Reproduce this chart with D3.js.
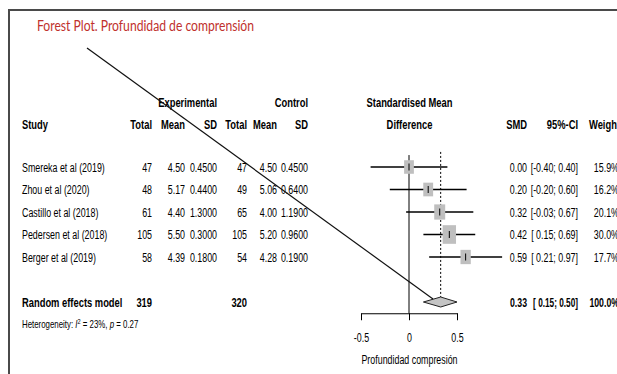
<!DOCTYPE html>
<html>
<head>
<meta charset="utf-8">
<script src="https://cdn.jsdelivr.net/npm/d3@7"></script>
<style>
  html, body { margin: 0; padding: 0; background: #fff; }
  svg { display: block; }
</style>
</head>
<body>
<script>
// ---------------- DATA ----------------
const studies   = ["Smereka et al (2019)", "Zhou et al (2020)", "Castillo et al (2018)", "Pedersen et al (2018)", "Berger et al (2019)"];
const expTotal  = [47, 48, 61, 105, 58];
const expMean   = [4.50, 5.17, 4.40, 5.50, 4.39];
const expSD     = [0.4500, 0.4400, 1.3000, 0.3000, 0.1800];
const ctrlTotal = [47, 49, 65, 105, 54];
const ctrlMean  = [4.50, 5.06, 4.00, 5.20, 4.28];
const ctrlSD    = [0.4500, 0.6400, 1.1900, 0.9600, 0.1900];
const smd       = [0.00, 0.20, 0.32, 0.42, 0.59];
const ciLow     = [-0.40, -0.20, -0.03, 0.15, 0.21];
const ciHigh    = [0.40, 0.60, 0.67, 0.69, 0.97];
const weights   = [15.9, 16.2, 20.1, 30.0, 17.7];
const pooledLabel = "Random effects model";
const pooledExpTotal = 319, pooledCtrlTotal = 320;
const pooledSMD = 0.33, pooledLow = 0.15, pooledHigh = 0.50, pooledWeight = 100.0;
const hetI2 = 23, hetP = 0.27;
const axisTicks = [-0.5, 0, 0.5];
const axisTickLabels = ["-0.5", "0", "0.5"];
const titleText = "Forest Plot. Profundidad de comprensión";
const xLabel = "Profundidad compresión";

// ---------------- LAYOUT ----------------
const W = 617, H = 374;
const SX = 0.71, SXB = 0.75;      // horizontal squeeze of the text (narrow look)
const FS = 12.5;
const FONT = "'Liberation Sans', Arial, sans-serif";
const col = { study: 22, eTot: 152, eMean: 185, eSD: 217, cTot: 247, cMean: 277, cSD: 308, smd: 527, ci: 578, w: 619, wh: 620 };

const svg = d3.select("body").append("svg").attr("width", W).attr("height", H);

const x = d3.scaleLinear().domain([-0.5, 0.5]).range([361, 457]);
const y = d3.scaleLinear().domain([0, 1]).range([167, 189.5]);   // row index -> pixel

function txt(px, py, s, opt = {}) {
  const t = svg.append("text")
    .attr("transform", `translate(${px},${py}) scale(${opt.sx ?? (opt.bold ? SXB : SX)},1)`)
    .attr("text-anchor", opt.anchor || "start")
    .attr("font-family", opt.family || FONT)
    .attr("font-size", opt.size || FS)
    .attr("font-weight", opt.bold ? "bold" : "normal")
    .attr("fill", opt.fill || "#000");
  if (s !== null) t.text(s);
  return t;
}
const base = 4.5; // baseline offset from row center

// frame
svg.append("line").attr("x1", 9).attr("y1", 10).attr("x2", W).attr("y2", 10).attr("stroke", "#4a4a4a").attr("stroke-width", 2);
svg.append("line").attr("x1", 9).attr("y1", 9).attr("x2", 9).attr("y2", H).attr("stroke", "#4a4a4a").attr("stroke-width", 2);

// title
txt(37, 31, titleText, { family: "Lato, 'Open Sans', sans-serif", size: 14.5, fill: "#c0302c", sx: 1 })
  .attr("textLength", 217).attr("lengthAdjust", "spacingAndGlyphs");

// headers
const h1 = y(-2.85) + base, h2 = y(-1.87) + base;
txt(col.eSD, h1, "Experimental", { anchor: "end", bold: true });
txt(col.cSD, h1, "Control", { anchor: "end", bold: true });
txt(x(0) + 0.5, h1, "Standardised Mean", { anchor: "middle", bold: true });
txt(col.study, h2, "Study", { bold: true });
txt(col.eTot, h2, "Total", { anchor: "end", bold: true });
txt(col.eMean, h2, "Mean", { anchor: "end", bold: true });
txt(col.eSD, h2, "SD", { anchor: "end", bold: true });
txt(col.cTot, h2, "Total", { anchor: "end", bold: true });
txt(col.cMean, h2, "Mean", { anchor: "end", bold: true });
txt(col.cSD, h2, "SD", { anchor: "end", bold: true });
txt(x(0) + 0.5, h2, "Difference", { anchor: "middle", bold: true });
txt(col.smd, h2, "SMD", { anchor: "end", bold: true });
txt(col.ci, h2, "95%-CI", { anchor: "end", bold: true });
txt(col.wh, h2, "Weight", { anchor: "end", bold: true });

const f2 = d3.format(".2f"), f4 = d3.format(".4f"), f1 = d3.format(".1f");
const num2 = v => f2(v).replace("\u2212", "-");
const ciStr = (lo, hi) => "[" + (lo < 0 ? "" : " ") + num2(lo) + "; " + num2(hi) + "]";

// study rows
studies.forEach((s, i) => {
  const by = y(i) + base;
  txt(col.study, by, s);
  txt(col.eTot, by, expTotal[i], { anchor: "end" });
  txt(col.eMean, by, f2(expMean[i]), { anchor: "end" });
  txt(col.eSD, by, f4(expSD[i]), { anchor: "end" });
  txt(col.cTot, by, ctrlTotal[i], { anchor: "end" });
  txt(col.cMean, by, f2(ctrlMean[i]), { anchor: "end" });
  txt(col.cSD, by, f4(ctrlSD[i]), { anchor: "end" });
  txt(col.smd, by, num2(smd[i]), { anchor: "end" });
  txt(col.ci, by, ciStr(ciLow[i], ciHigh[i]), { anchor: "end" });
  txt(col.w, by, f1(weights[i]) + "%", { anchor: "end" });
});

// pooled row
const py = y(6) + base;
txt(col.study, py, pooledLabel, { bold: true });
txt(col.eTot, py, pooledExpTotal, { anchor: "end", bold: true });
txt(col.cTot, py, pooledCtrlTotal, { anchor: "end", bold: true });
txt(col.smd, py, num2(pooledSMD), { anchor: "end", bold: true, sx: 0.7 });
txt(col.ci, py, ciStr(pooledLow, pooledHigh), { anchor: "end", bold: true, sx: 0.66 });
txt(col.w, py, f1(pooledWeight) + "%", { anchor: "end", bold: true, sx: 0.7 });

// heterogeneity
const ht = txt(col.study, y(7) + 3.5, null, { size: 10.5, sx: 0.75 });
ht.append("tspan").text("Heterogeneity: ");
ht.append("tspan").attr("font-style", "italic").text("I");
ht.append("tspan").attr("font-size", 7.5).attr("dy", -4.5).text("2");
ht.append("tspan").attr("dy", 4.5).text(" = " + hetI2 + "%, ");
ht.append("tspan").attr("font-style", "italic").text("p");
ht.append("tspan").text(" = " + hetP);

// ---------------- PLOT ----------------
const axisY = y(6.5);
// zero line
svg.append("line").attr("x1", x(0)).attr("x2", x(0)).attr("y1", y(-0.53)).attr("y2", axisY)
  .attr("stroke", "#000").attr("stroke-width", 1);
// pooled dotted line
svg.append("line").attr("x1", x(pooledSMD)).attr("x2", x(pooledSMD)).attr("y1", y(-0.67)).attr("y2", y(6) - 5)
  .attr("stroke", "#000").attr("stroke-width", 1).attr("stroke-dasharray", "2,2");

// CI lines
svg.append("g").selectAll("line").data(studies).join("line")
  .attr("x1", (d, i) => x(ciLow[i])).attr("x2", (d, i) => x(ciHigh[i]))
  .attr("y1", (d, i) => y(i)).attr("y2", (d, i) => y(i))
  .attr("stroke", "#000").attr("stroke-width", 1.5);

// squares
const hgt = w => 3.4 * Math.sqrt(w);
svg.append("g").selectAll("rect").data(studies).join("rect")
  .attr("x", (d, i) => x(smd[i]) - 0.36 * hgt(weights[i]))
  .attr("y", (d, i) => y(i) - hgt(weights[i]) / 2)
  .attr("width", (d, i) => 0.72 * hgt(weights[i]))
  .attr("height", (d, i) => hgt(weights[i]))
  .attr("fill", "#bfbfbf");
// point ticks
svg.append("g").selectAll("line").data(studies).join("line")
  .attr("x1", (d, i) => x(smd[i])).attr("x2", (d, i) => x(smd[i]))
  .attr("y1", (d, i) => y(i) - 3.5).attr("y2", (d, i) => y(i) + 3.5)
  .attr("stroke", "#000").attr("stroke-width", 1);

// diamond
const dy0 = y(6);
svg.append("path")
  .attr("d", `M${x(pooledLow)},${dy0} L${x(pooledSMD)},${dy0 - 5} L${x(pooledHigh)},${dy0} L${x(pooledSMD)},${dy0 + 5} Z`)
  .attr("fill", "#c4c4c4").attr("stroke", "#222").attr("stroke-width", 1);

// axis
const ax = svg.append("g").attr("transform", `translate(0,${axisY})`)
  .call(d3.axisBottom(x).tickValues(axisTicks).tickSize(7).tickSizeOuter(0).tickPadding(13)
    .tickFormat((d, i) => axisTickLabels[i]));
ax.select(".domain").attr("stroke", "#000");
ax.selectAll(".tick line").attr("stroke", "#000");
ax.selectAll(".tick text").attr("font-family", FONT).attr("font-size", FS).attr("fill", "#000")
  .attr("transform", `scale(${SX},1)`);

txt(x(0) + 0.5, y(8.75), xLabel, { anchor: "middle" });

// annotation diagonal line (drawn over the chart as in the reference)
svg.append("line").attr("x1", 87).attr("y1", 48).attr("x2", x(0.25)).attr("y2", y(6) - 3)
  .attr("stroke", "#111").attr("stroke-width", 1.2);
</script>
</body>
</html>
